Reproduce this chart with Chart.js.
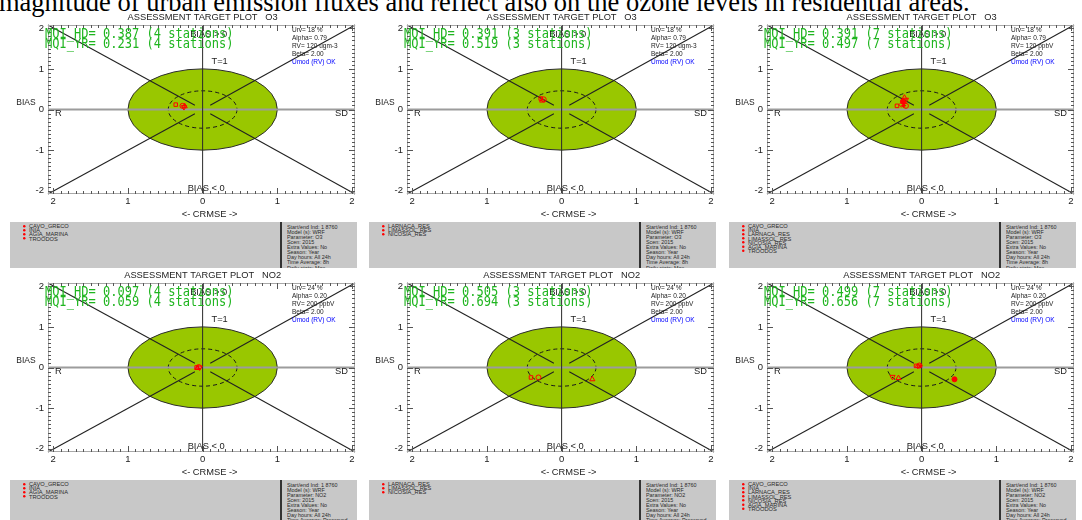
<!DOCTYPE html>
<html>
<head>
<meta charset="utf-8">
<script src="https://cdn.jsdelivr.net/npm/chart.js@4.4.1/dist/chart.umd.min.js"></script>
<style>
  html, body { margin:0; padding:0; background:#fff; width:1082px; height:520px; overflow:hidden; position:relative; font-family:"Liberation Sans", Arial, sans-serif; }
  .lead { position:absolute; left:-1px; top:-11.5px; font:26.5px "Liberation Serif", "Times New Roman", serif; line-height:26.5px; white-space:nowrap; color:#000; }
  canvas.tp { position:absolute; }
  .info { position:absolute; background:#c8c8c8; width:347px; height:46px; overflow:hidden; }
  .half { position:absolute; transform:scale(0.5); transform-origin:0 0; white-space:nowrap; color:#2a2a2a; }
  .stations { left:13px; top:2px; font-size:11.4px; line-height:8.2px; }
  .stations div { position:relative; padding-left:12px; height:8.2px; }
  .stations div::before { content:""; position:absolute; left:0; top:1.6px; width:5px; height:5px; border-radius:50%; background:#f00; }
  .meta { left:277px; top:1.5px; font-size:10.8px; line-height:10.2px; }
  .sep { position:absolute; left:270px; top:0; width:1.5px; height:100%; background:#333; }
</style>
</head>
<body>
<div class="lead">magnitude of urban emission fluxes and reflect also on the ozone levels in residential areas.</div>
<div id="root"></div>
<script>
// ---------- axes ----------
const xTicks = [-2, -1, 0, 1, 2];
const yTicks = [-2, -1, 0, 1, 2];

// ---------- station groups ----------
const stationsRural = ['CAVO_GRECO', 'INIA', 'AGIA_MARINA', 'TROODOS'];
const stationsResidential = ['LARNACA_RES', 'LIMASSOL_RES', 'NICOSIA_RES'];
const stationsAll = ['CAVO_GRECO', 'INIA', 'LARNACA_RES', 'LIMASSOL_RES', 'NICOSIA_RES', 'AGIA_MARINA', 'TROODOS'];

// ---------- target coordinates (x: CRMSE side, y: BIAS), per station ----------
const o3RuralCrmse = [-0.36, -0.27, -0.24, -0.25];
const o3RuralBias  = [0.12, 0.09, 0.08, 0.06];
const o3ResCrmse   = [-0.28, -0.24, -0.26];
const o3ResBias    = [0.27, 0.25, 0.22];
const o3AllCrmse   = [-0.33, -0.21, -0.23, -0.21, -0.25, -0.27, -0.24];
const o3AllBias    = [0.09, 0.09, 0.29, 0.24, 0.20, 0.12, 0.10];
const no2RuralCrmse = [-0.08, -0.05, -0.07, -0.04];
const no2RuralBias  = [0.00, 0.01, -0.01, 0.00];
const no2ResCrmse   = [-0.41, -0.31, 0.41];
const no2ResBias    = [-0.245, -0.245, -0.29];
const no2AllCrmse   = [-0.075, -0.03, -0.31, -0.39, 0.44, -0.05, -0.02];
const no2AllBias    = [0.04, 0.05, -0.26, -0.23, -0.29, 0.03, 0.04];

// ---------- summary indicators ----------
const mqiHd = [0.387, 0.391, 0.391, 0.097, 0.505, 0.499];
const mqiYr = [0.231, 0.519, 0.497, 0.059, 0.694, 0.656];
const stationCounts = [4, 3, 7, 4, 3, 7];
const pollutants = ['O3', 'O3', 'O3', 'NO2', 'NO2', 'NO2'];
const urvText = ['18 %', '18 %', '18 %', '24 %', '24 %', '24 %'];
const alphaText = ['0.79', '0.79', '0.79', '0.20', '0.20', '0.20'];
const rvText = ['120 ugm-3', '120 ugm-3', '120 ppbV', '200 ppbV', '200 ppbV', '200 ppbV'];
const metaO3 = ['Start/end Ind: 1 8760', 'Model (s): WRF', 'Parameter: O3', 'Scen: 2015', 'Extra Values: No', 'Season: Year', 'Day hours: All 24h', 'Time Average: 8h', 'Daily stats: Max'];
const metaNO2 = ['Start/end Ind: 1 8760', 'Model (s): WRF', 'Parameter: NO2', 'Scen: 2015', 'Extra Values: No', 'Season: Year', 'Day hours: All 24h', 'Time Average: Preserved', 'Daily stats: Max'];

// marker look by station index within a plot
const markerShapes = ['rect', 'circle', 'triangle', 'triangle', 'circle', 'rectRot', 'star'];
const markerTurns  = [0, 0, 0, 180, 0, 0, 0];
const markerFilled = [false, false, false, false, true, false, false];

const panels = [
  { stations: stationsRural, crmse: o3RuralCrmse, bias: o3RuralBias, meta: metaO3 },
  { stations: stationsResidential, crmse: o3ResCrmse, bias: o3ResBias, meta: metaO3 },
  { stations: stationsAll, crmse: o3AllCrmse, bias: o3AllBias, meta: metaO3 },
  { stations: stationsRural, crmse: no2RuralCrmse, bias: no2RuralBias, meta: metaNO2 },
  { stations: stationsResidential, crmse: no2ResCrmse, bias: no2ResBias, meta: metaNO2 },
  { stations: stationsAll, crmse: no2AllCrmse, bias: no2AllBias, meta: metaNO2 }
];

const COL_X = [0, 359, 719];
const ROW_Y = [0, 258];
const INNER_RADIUS = 0.46;
const SANS = '"Liberation Sans", Arial, sans-serif';

function seg(ctx, x1, y1, x2, y2) { ctx.beginPath(); ctx.moveTo(x1, y1); ctx.lineTo(x2, y2); ctx.stroke(); }

// Target diagram furniture: disk, dashed circle, diagonals, frame and tick marks
const targetFurniture = {
  id: 'targetFurniture',
  beforeDatasetsDraw(chart) {
    const { ctx, chartArea: a, scales: { x, y } } = chart;
    const x0 = x.getPixelForValue(0), y0 = y.getPixelForValue(0);
    const rx = x.getPixelForValue(1) - x0, ry = y0 - y.getPixelForValue(1);
    ctx.save();
    ctx.beginPath(); ctx.ellipse(x0, y0, rx, ry, 0, 0, Math.PI * 2);
    ctx.fillStyle = '#99c700'; ctx.fill();
    ctx.strokeStyle = '#2b2b2b'; ctx.lineWidth = 1; ctx.stroke();

    ctx.beginPath(); ctx.ellipse(x0, y0, rx * INNER_RADIUS, ry * INNER_RADIUS, 0, 0, Math.PI * 2);
    ctx.setLineDash([4, 3]); ctx.strokeStyle = '#1a1a1a'; ctx.stroke(); ctx.setLineDash([]);

    ctx.strokeStyle = '#9c9c9c'; ctx.lineWidth = 2; seg(ctx, a.left, y0, a.right, y0);
    ctx.strokeStyle = '#2a2a2a'; ctx.lineWidth = 1; seg(ctx, x0, a.top, x0, a.bottom);

    ctx.strokeStyle = '#222'; ctx.lineWidth = 1.1;
    [[a.left, a.top], [a.right, a.top], [a.left, a.bottom], [a.right, a.bottom]].forEach(([cx, cy]) => {
      seg(ctx, cx, cy, x0 + (cx - x0) * 0.05, y0 + (cy - y0) * 0.05);
    });

    ctx.strokeStyle = '#a8a8a8'; ctx.lineWidth = 1;
    ctx.strokeRect(a.left + 0.5, a.top + 0.5, a.right - a.left - 1, a.bottom - a.top - 1);

    ctx.strokeStyle = '#555'; ctx.lineWidth = 1;
    for (let i = -20; i <= 20; i++) {
      const len = i % 10 === 0 ? 6 : 3;
      const py = Math.round(y.getPixelForValue(i / 10)) + 0.5;
      seg(ctx, a.left, py, a.left + len, py);
      seg(ctx, a.right, py, a.right - len, py);
      const px = Math.round(x.getPixelForValue(i / 10)) + 0.5;
      seg(ctx, px, a.bottom, px, a.bottom - len);
      seg(ctx, px, a.top, px, a.top + len);
    }
    ctx.restore();
  },
  afterDatasetsDraw(chart, args, o) {
    const { ctx, chartArea: a, scales: { x, y } } = chart;
    const x0 = x.getPixelForValue(0), y0 = y.getPixelForValue(0);
    ctx.save();
    ctx.fillStyle = '#222'; ctx.textBaseline = 'middle'; ctx.textAlign = 'center';
    ctx.font = '9.3px ' + SANS;
    ctx.fillText('ASSESSMENT TARGET PLOT   ' + o.pollutant, x0, 17);
    ctx.fillText('T=1', x0 + 17, y.getPixelForValue(1) - 7);
    ctx.fillText('BIAS > 0', x0 + 6, a.top + 9);
    ctx.fillText('BIAS < 0', x0 + 3.5, a.bottom - 6);
    ctx.fillText('<- CRMSE ->', x0 + 7, 214);
    ctx.font = '8.5px ' + SANS;
    ctx.fillText('BIAS', 26, y0 - 7);
    ctx.font = '9.3px ' + SANS;
    ctx.textAlign = 'left'; ctx.fillText('R', a.left + 7, y0 + 3.5);
    ctx.textAlign = 'right'; ctx.fillText('SD', a.right - 7, y0 + 3.5);

    ctx.textAlign = 'left'; ctx.textBaseline = 'alphabetic';
    ctx.font = '6.5px ' + SANS;
    const bx = a.left + 244;
    ctx.fillText('Urv= ' + o.urv, bx, a.top + 6.5);
    ctx.fillText('Alpha= ' + o.alpha, bx, a.top + 14.5);
    ctx.fillText('RV= ' + o.rv, bx, a.top + 22.5);
    ctx.fillText('Beta= 2.00', bx, a.top + 30.5);
    ctx.fillStyle = '#0000ff';
    ctx.fillText('Umod (RV) OK', bx, a.top + 38.5);

    ctx.fillStyle = '#1fb51f';
    ctx.translate(a.left - 3, 38.3);
    ctx.scale(0.86, 1);
    ctx.font = '14px "DejaVu Sans Mono", monospace';
    ctx.fillText('MQI_HD= ' + o.hd.toFixed(3) + ' (' + o.n + ' stations)', 0, 0);
    ctx.fillText('MQI_YR= ' + o.yr.toFixed(3) + ' (' + o.n + ' stations)', 0, 10);
    ctx.restore();
  }
};

const root = document.getElementById('root');

panels.forEach((p, k) => {
  const col = k % 3, row = Math.floor(k / 3);
  const left = COL_X[col], top = ROW_Y[row];

  const cv = document.createElement('canvas');
  cv.className = 'tp';
  cv.width = 360; cv.height = 222;
  cv.style.left = left + 'px'; cv.style.top = top + 'px';
  root.appendChild(cv);

  const datasets = p.stations.map((name, i) => ({
    label: name,
    data: [{ x: p.crmse[i], y: p.bias[i] }],
    pointStyle: markerShapes[i],
    rotation: markerTurns[i],
    pointRadius: markerShapes[i] === 'triangle' ? 3 : 2.5,
    borderColor: '#ff0000',
    backgroundColor: markerFilled[i] ? '#ff0000' : 'rgba(0,0,0,0)',
    borderWidth: 1
  }));

  const tickFont = { size: 9.5, family: SANS };
  new Chart(cv, {
    type: 'scatter',
    data: { datasets },
    options: {
      responsive: false,
      animation: false,
      devicePixelRatio: 1,
      layout: { padding: { left: 0, top: 25, right: 4.5, bottom: 0 } },
      plugins: {
        legend: { display: false },
        tooltip: { enabled: false },
        targetFurniture: {
          pollutant: pollutants[k], hd: mqiHd[k], yr: mqiYr[k], n: stationCounts[k],
          urv: urvText[k], alpha: alphaText[k], rv: rvText[k]
        }
      },
      scales: {
        x: {
          type: 'linear', min: -2.07, max: 2.04,
          afterBuildTicks: s => { s.ticks = xTicks.map(v => ({ value: v })); },
          afterFit: s => { s.height = 28; },
          grid: { display: false, drawTicks: false },
          border: { display: false },
          ticks: { callback: v => String(Math.abs(v)), font: tickFont, color: '#222', padding: 2, maxRotation: 0, autoSkip: false }
        },
        y: {
          type: 'linear', min: -2.08, max: 2.08,
          afterBuildTicks: s => { s.ticks = yTicks.map(v => ({ value: v })); },
          afterFit: s => { s.width = 48; },
          grid: { display: false, drawTicks: false },
          border: { display: false },
          ticks: { font: tickFont, color: '#222', padding: 4, autoSkip: false }
        }
      }
    },
    plugins: [targetFurniture]
  });

  // station list and run settings underneath the plot
  const info = document.createElement('div');
  info.className = 'info';
  info.style.left = (left + 10) + 'px';
  info.style.top = (top + 222) + 'px';
  const st = document.createElement('div');
  st.className = 'half stations';
  p.stations.forEach(name => { const d = document.createElement('div'); d.textContent = name; st.appendChild(d); });
  const sep = document.createElement('div'); sep.className = 'sep';
  const meta = document.createElement('div');
  meta.className = 'half meta';
  p.meta.forEach(t => { const d = document.createElement('div'); d.textContent = t; meta.appendChild(d); });
  info.appendChild(st); info.appendChild(sep); info.appendChild(meta);
  root.appendChild(info);
});
</script>
</body>
</html>
